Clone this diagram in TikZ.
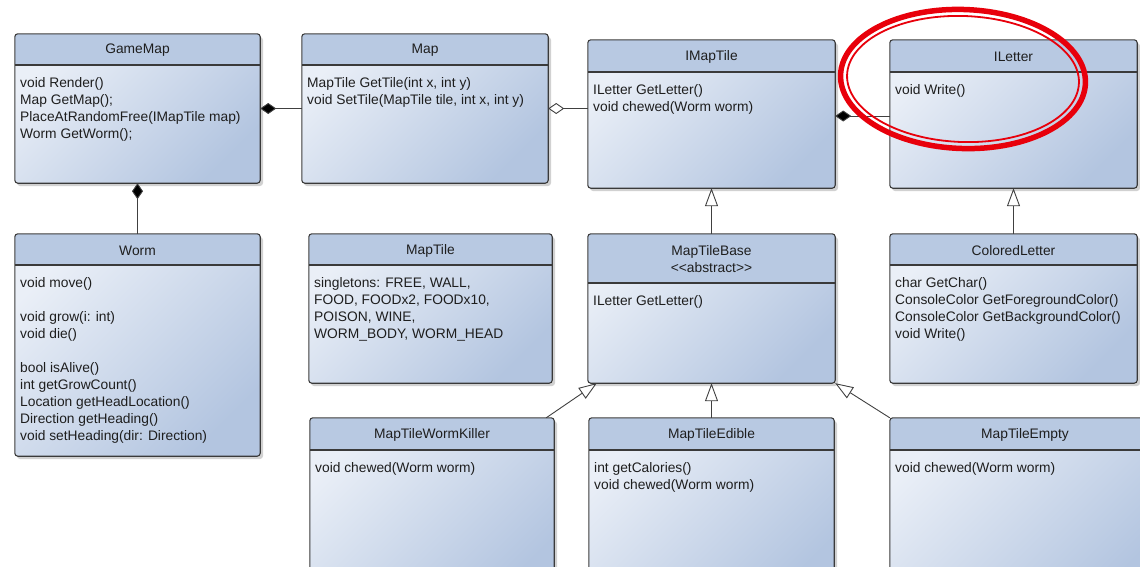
\documentclass[tikz,border=0pt]{standalone}
\usepackage{fontspec}
\setmainfont{Liberation Sans}
\usetikzlibrary{arrows.meta,fit}

\definecolor{headblue}{HTML}{B8C9E2}
\definecolor{bodylight}{HTML}{EAEFF7}
\definecolor{bodydark}{HTML}{B3C5E0}
\definecolor{edgegray}{HTML}{3A3A3A}
\definecolor{textgray}{HTML}{1E1E1E}
\definecolor{markred}{HTML}{E8000B}

\tikzset{classbox/.style={inner sep=0pt, rounded corners=3pt,
  top color=bodylight, bottom color=bodydark, shading angle=45}}
\tikzset{classline/.style={draw=edgegray, line width=1.1pt}}
\tikzset{classtext/.style={text=textgray, font=\fontsize{13.8}{17}\selectfont}}
\tikzset{link/.style={draw=black!75, line width=0.9pt}}
\tikzset{compose/.style={link, {Diamond[length=16pt,width=11pt,fill=black]}-}}
\tikzset{aggregate/.style={link, {Diamond[open,length=16pt,width=11pt,fill=white]}-}}
\tikzset{inherit/.style={link, -{Triangle[open,length=18pt,width=13pt,fill=white]}}}

% #1 name, #2 left, #3 top, #4 right, #5 bottom, #6 divider, #7 title, #8 members
\newcommand\umlclass[8]{%
  \fill[black!18, rounded corners=3pt] (#2+2,#3+3) rectangle (#4+3,#5+3);
  \node[classbox, fit={(#2,#3) (#4,#5)}] (#1) {};
  \begin{scope}
    \clip[rounded corners=3pt] (#1.north west) rectangle (#1.south east);
    \fill[headblue] (#2,#3) rectangle (#4,#6);
  \end{scope}
  \draw[classline] (#2,#6) -- (#4,#6);
  \draw[classline, rounded corners=3pt] (#1.north west) rectangle (#1.south east);
  \node[classtext, align=center] (#1-title) at ({(#2+#4)/2},{(#3+#6)/2+1}) {#7};
  \node[classtext, anchor=north west, align=left, inner sep=0pt] (#1-ops) at (#2+5,#6+12) {#8};
}

\begin{document}
\begin{tikzpicture}[x=1pt,y=-1pt]
\clip (0,0) rectangle (1140,566);

\umlclass{gamemap}{15}{34}{260}{183}{65}{GameMap}{void Render()\\Map GetMap();\\PlaceAtRandomFree(IMapTile map)\\Worm GetWorm();}
\umlclass{map}{302}{34}{548}{183}{65}{Map}{MapTile GetTile(int x, int y)\\void SetTile(MapTile tile, int x, int y)}
\umlclass{imaptile}{588}{40}{835}{188}{72}{IMapTile}{ILetter GetLetter()\\void chewed(Worm worm)}
\umlclass{iletter}{890}{40}{1137}{188}{72}{ILetter}{void Write()}

\umlclass{worm}{15}{234}{260}{456}{265}{Worm}{void move()\\[17pt]void grow(i: int)\\void die()\\[17pt]bool isAlive()\\int getGrowCount()\\Location getHeadLocation()\\Direction getHeading()\\void setHeading(dir: Direction)}
\umlclass{maptile}{309}{234}{552}{383}{265}{MapTile}{singletons: FREE, WALL,\\FOOD, FOODx2, FOODx10,\\POISON, WINE,\\WORM\_BODY, WORM\_HEAD}
\umlclass{tilebase}{588}{234}{835}{383}{283}{MapTileBase\\<\kern0pt<abstract>\kern0pt>}{ILetter GetLetter()}
\umlclass{colored}{890}{234}{1137}{383}{265}{ColoredLetter}{char GetChar()\\ConsoleColor GetForegroundColor()\\ConsoleColor GetBackgroundColor()\\void Write()}

\umlclass{wormkiller}{310}{418}{554}{600}{450}{MapTileWormKiller}{void chewed(Worm worm)}
\umlclass{edible}{589}{418}{834}{600}{450}{MapTileEdible}{int getCalories()\\void chewed(Worm worm)}
\umlclass{empty}{890}{418}{1160}{600}{450}{MapTileEmpty}{void chewed(Worm worm)}

% associations
\draw[compose] (gamemap.east) -- (map.west);
\draw[compose] (gamemap.south) -- (worm.north);
\draw[aggregate] (map.east) -- (map.east -| imaptile.west);
\draw[compose] ([yshift=-2pt]imaptile.east) -- ([yshift=-2pt]imaptile.east -| iletter.west);

% inheritance
\draw[inherit] (tilebase.north) -- (imaptile.south);
\draw[inherit] (colored.north) -- (iletter.south);
\draw[inherit] (edible.north) -- (edible.north |- tilebase.south);
\draw[inherit] ([xshift=-8pt]wormkiller.north east) -- ([xshift=9pt]tilebase.south west);
\draw[inherit] (empty.north west) -- (tilebase.south east);

% red mark round ILetter
\draw[markred, line width=5.5pt, rotate around={-2:(963,79)}] (963,79) ellipse [x radius=122.5, y radius=69.5];
\draw[markred, line width=1.8pt, rotate around={-2:(963,79)}] (963,79) ellipse [x radius=116, y radius=63];

\end{tikzpicture}
\end{document}
